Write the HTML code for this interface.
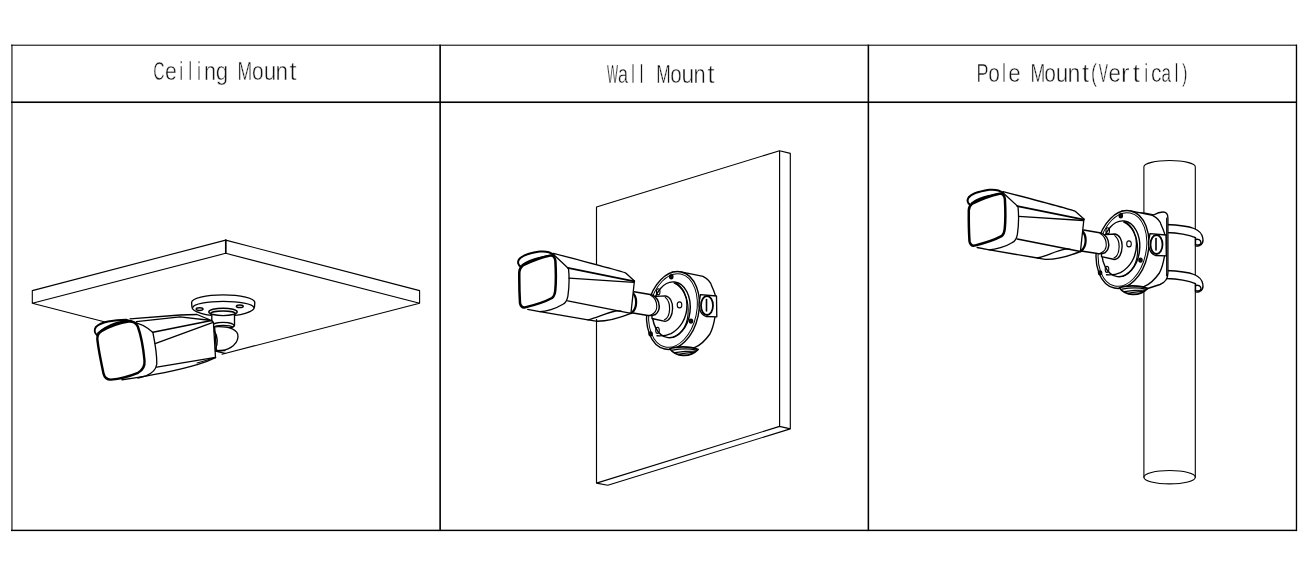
<!DOCTYPE html>
<html><head><meta charset="utf-8"><style>
html,body{margin:0;padding:0;background:#fff;}
body{width:1304px;height:582px;position:relative;overflow:hidden;}
svg{position:absolute;left:0;top:0;will-change:transform;}
</style></head><body>
<svg width="1304" height="582" viewBox="0 0 1304 582">
<g id="grid" fill="#000">
<rect x="11" y="44.67" width="1286" height="1.05"/>
<rect x="11" y="101.43" width="1286" height="1.6"/>
<rect x="11" y="529.67" width="1286" height="1.44"/>
<rect x="11.43" y="44.67" width="1.06" height="486.4"/>
<rect x="439.33" y="44.67" width="1.6" height="486.4"/>
<rect x="867.59" y="44.67" width="1.55" height="486.4"/>
<rect x="1295.8" y="44.67" width="1.35" height="486.4"/>

</g>
<g font-family="Liberation Sans, sans-serif" font-size="25.4" fill="#111" stroke="#fff" stroke-width="0.5">
<text transform="translate(153.21,79.6) scale(0.615,1)">C</text>
<text transform="translate(165.09,79.6) scale(0.839,1)">e</text>
<text transform="translate(179.55,79.6) scale(0.620,1)">i</text>
<text transform="translate(188.55,79.6) scale(0.620,1)">l</text>
<text transform="translate(197.15,79.6) scale(0.620,1)">i</text>
<text transform="translate(203.96,79.6) scale(0.853,1)">n</text>
<text transform="translate(215.76,79.6) scale(0.884,1)">g</text>
<text transform="translate(237.55,79.6) scale(0.694,1)">M</text>
<text transform="translate(252.12,79.6) scale(0.825,1)">o</text>
<text transform="translate(263.63,79.6) scale(0.890,1)">u</text>
<text transform="translate(275.40,79.6) scale(0.890,1)">n</text>
<text transform="translate(289.62,79.6) scale(1.000,1)">t</text>
<text transform="translate(606.95,82.8) scale(0.463,1)">W</text>
<text transform="translate(618.03,82.8) scale(0.713,1)">a</text>
<text transform="translate(631.25,82.8) scale(0.620,1)">l</text>
<text transform="translate(639.75,82.8) scale(0.620,1)">l</text>
<text transform="translate(656.28,82.8) scale(0.683,1)">M</text>
<text transform="translate(670.23,82.8) scale(0.817,1)">o</text>
<text transform="translate(681.52,82.8) scale(0.899,1)">u</text>
<text transform="translate(693.55,82.8) scale(0.862,1)">n</text>
<text transform="translate(707.62,82.8) scale(1.000,1)">t</text>
<text transform="translate(976.62,81.9) scale(0.710,1)">P</text>
<text transform="translate(988.22,81.9) scale(0.825,1)">o</text>
<text transform="translate(1002.35,81.9) scale(0.620,1)">l</text>
<text transform="translate(1008.25,81.9) scale(0.881,1)">e</text>
<text transform="translate(1030.54,81.9) scale(0.700,1)">M</text>
<text transform="translate(1044.32,81.9) scale(0.825,1)">o</text>
<text transform="translate(1055.83,81.9) scale(0.890,1)">u</text>
<text transform="translate(1067.55,81.9) scale(0.918,1)">n</text>
<text transform="translate(1081.97,81.9) scale(1.000,1)">t</text>
<text transform="translate(1091.08,81.9) scale(0.713,1)">(</text>
<text transform="translate(1098.84,81.9) scale(0.544,1)">V</text>
<text transform="translate(1108.45,81.9) scale(0.881,1)">e</text>
<text transform="translate(1121.04,81.9) scale(1.000,1)">r</text>
<text transform="translate(1132.87,81.9) scale(1.000,1)">t</text>
<text transform="translate(1144.45,81.9) scale(0.620,1)">i</text>
<text transform="translate(1150.90,81.9) scale(0.831,1)">c</text>
<text transform="translate(1161.57,81.9) scale(0.674,1)">a</text>
<text transform="translate(1174.75,81.9) scale(0.620,1)">l</text>
<text transform="translate(1182.10,81.9) scale(0.639,1)">)</text>
</g>
<g fill="none" stroke="#000" stroke-linejoin="round" stroke-linecap="round">
<!-- slab -->
<g stroke-width="1.1">
<path d="M32.3,290.6 L225.7,240.1 L419.6,290.6 M32.3,303.3 L225.7,253.3 L419.6,303.3 M32.3,290.6 V303.3 M419.6,290.6 V303.3 M32.3,303.3 L110,323.3 M419.6,303.3 L222,354.2"/>
<path d="M225.8,240.2 V253.2" stroke-width="1.7"/>
</g>
<!-- mount plate -->
<g stroke-width="1.35" fill="#fff">
<path d="M191.6,302.5 A31.6,7.7 0 0 1 254.8,302.5 L254.5,306.8 A31.3,9.3 0 0 1 191.9,306.8 Z"/>
<path d="M192.8,307.2 A30.5,6.2 0 0 1 253.7,307.2" fill="none"/>
<ellipse cx="199.6" cy="309.1" rx="3.4" ry="1.3" stroke-width="1.5"/>
<ellipse cx="239.8" cy="306.3" rx="3.4" ry="1.3" stroke-width="1.5"/>
<!-- neck -->
<path d="M211.8,314 V325.6 A11.3,2.6 0 0 0 234.5,325.6 V314 Z"/>
<ellipse cx="223" cy="311.9" rx="14.2" ry="3.7" stroke-width="1.4"/>
<path d="M210.6,313.6 A12.4,2.6 0 0 1 235.4,313.6" fill="none" stroke-width="1.7"/>
<path d="M212.3,325.6 A10.8,3.2 0 0 1 233.9,325.6" fill="none" stroke-width="1.3"/>
<path d="M213.5,327.2 A9.8,2.2 0 0 1 232.8,327.2" fill="none" stroke-width="1.1"/>
<!-- ball -->
<path d="M214.6,326.8 C230,326 238.6,330 238,337 C237.2,345.5 227,351.5 216.4,350.6 Z"/>
</g>
<!-- camera 1 body -->
<g stroke-width="1.35" fill="#fff">
<path d="M118.5,320 L130,319.3 L180,315 L194.1,314.7 L211.5,320.5 L213.5,322 L215.5,357.6 L146,375.4 L128,378 L110,380 Z" stroke="none"/>
<path d="M130,318.8 L180,315 L197,314.5 L211.5,320.5 M136.4,321.7 L180,316.9 L211.5,320.5" fill="none"/>
<path d="M211.5,320.5 L213.4,322.3 L215.5,357.5" fill="none" stroke-width="1.3"/>
<path d="M214.2,331 C217.8,336 218.2,344 215.3,349" fill="none" stroke-width="1.4"/>
<path d="M152.9,332.3 L211.5,320.5" fill="none" stroke-width="1.5"/>
<path d="M155.1,343.6 L212.4,322.6" fill="none"/>
<path d="M156.8,367.2 L215.5,357.3" fill="none"/>
<path d="M122,379.8 C150,375.8 180,369.8 198,364.4 C206,362 211,359.8 215.5,357.6" fill="none" stroke-width="1.4"/>
<path d="M197,363 C204,361.4 210,359.3 215.5,357.4" fill="none" stroke-width="1.1"/>
<path d="M215.5,350.4 L225,350.6 M215.5,351.2 L225,353.4" fill="none"/>
<!-- bezel -->
<path d="M130,321.4 C137,322.5 146,326 152.9,332.5 C155,343 157,356 156.8,364.2 C156,369.5 152,373.5 146,375.8 L138,378" fill="none" stroke-width="1.3"/>
</g>
<!-- visor + front face -->
<g fill="#fff">
<path d="M97.4,335.4 C94.6,333.4 94,330 95.7,327.2 C98.5,324.5 103,322.6 108,321.6 C114,320.6 120,320 126.1,319.8 L133.8,322.4" stroke-width="2.0"/>
<path d="M98,333.2 C103,328.6 110,325 117,322.6 C121,321.5 126,320.9 131,320.9" fill="none" stroke-width="1.8"/>
<path d="M101.4,331.1 C110,326.4 120,322.8 128.5,321.6 C133,321.3 136,322.6 137.8,326.5 C140.5,334 143.5,350 144.5,360.5 C145,366 142,370.5 138,372.8 C130,376 118,379 111,379.6 C107,379.8 104.6,377.6 103.6,373.9 C101,362 98.5,350 97.3,339.2 C97.2,335.8 98.5,332.8 101.4,331.1 Z" stroke-width="2.4"/>
</g>

<!-- wall -->
<g stroke-width="1.15">
<path d="M596.5,207 L779.6,150.7 L790.3,153.4 V428.9 L607.8,485.2 L596.5,483.1 Z M779.6,150.7 V426.4 L790.3,428.9 M596.5,483.1 L779.6,426.4"/>
</g>
<g id="box2" stroke-width="1.35">
<g fill="#fff">
<path d="M672,272.2 C678,271.5 683,272 686,272.9 L703,276.3 C708,279 711,283 711.6,285.8 C714.5,292 716,296 715.9,299.6 L715,316.8 C714,323 712,330 709.9,334 C705,341 700,345.5 694.4,347.7 L676,348.5 Z"/>
<ellipse cx="673" cy="310.5" rx="25.7" ry="39.4" transform="rotate(12 673 310.5)" stroke-width="1.4"/>
<ellipse cx="673" cy="310.5" rx="23.6" ry="37.3" transform="rotate(12 673 310.5)" fill="none" stroke-width="1"/>
</g>
<ellipse cx="671.3" cy="309.8" rx="18.8" ry="28" transform="rotate(7 671.3 309.8)" fill="none" stroke-width="1.4"/>
<path d="M674,283 C683,287 688.2,298 688.2,310 C688.2,323 683,333 673,337.5" fill="none" stroke-width="1.1"/>
<path d="M675.5,282.8 C683,287 687,296 687,305 C687,318 680.5,328.5 671,333.6 C667,335.5 662,336.2 657,335.8" fill="none" stroke-width="1.4"/>
<!-- lug -->
<path d="M700.5,294.6 L716.5,296 L716.8,316.8 L706,316.5 C700,314 698,307 699.5,300 Z" fill="#fff"/>
<ellipse cx="707" cy="305.5" rx="6" ry="9.5" fill="#fff" stroke-width="1.8"/>
<path d="M706.5,299.5 V311" stroke-width="1.6"/>
<!-- bottom lug -->
<path d="M669.8,348.8 C676,346.3 690,346 698.2,349.4 C694,353.8 688,355.6 683,355.4 C677,355.2 672.5,352.5 669.8,348.8 Z" fill="#fff" stroke-width="1.6"/>
<path d="M672.5,350.2 C680,348.6 690,348.6 696.5,350.2 M675,352.6 C682,351.6 690,351.2 695,351.2 M678,354.3 C684,353.4 689,352.8 693,352.4" stroke-width="1.3"/>
<!-- holes & dots -->
<ellipse cx="658.2" cy="291.8" rx="1.8" ry="3.1" stroke-width="1.1"/>
<ellipse cx="679.5" cy="304.9" rx="2.3" ry="3" stroke-width="1.1"/>
<ellipse cx="657.5" cy="330.4" rx="1.8" ry="3" stroke-width="1.1"/>
<ellipse cx="671.3" cy="276.7" rx="1.6" ry="2" fill="#111"/>
<ellipse cx="691" cy="321.1" rx="1.6" ry="2" fill="#111"/>
<ellipse cx="650.6" cy="333.8" rx="1.6" ry="2" fill="#111"/>
</g>
<g id="cam2">
<!-- arm -->
<g fill="#fff" stroke-width="1.35">
<path d="M652,296.6 L665.5,295.8 C670,296.5 672.8,302 672.6,308.5 C672.4,315.5 669.5,321 665,321.3 L652,318.5 Z"/>
<path d="M665.3,297.4 C668.5,300 669.8,304.5 669.6,309 C669.4,314.5 667.5,318.5 664.5,319.8" fill="none" stroke-width="1.2"/>
<path d="M631,292 L651.6,294.7 C656,296.5 659,301 659.3,306.6 C659.2,310 657.5,313 655.5,314.5 L650,315.5 L631,313 Z" stroke="none"/>
<path d="M634.1,291.8 L651.6,294.7 C656,296.5 659,301 659.3,306.6 C659.2,310 657.5,313 655.5,314.5 C653,315.5 651,315.6 648,315.4 L630,312.5" fill="none" stroke-width="1.5"/>
<path d="M650.5,295 C654.5,297.5 656.8,302 656.8,306.5 C656.8,310.5 654.5,313.5 651,315" fill="none" stroke-width="1.1"/>
<path d="M631.8,292.3 C637.5,296 637.8,308 631.5,313" fill="none" stroke-width="2.2"/>
</g>
<!-- body -->
<g fill="#fff" stroke-width="1.35">
<path d="M553.5,253.4 L565,256.2 L622.7,271.3 L634.4,280.9 L631,312.8 L617.2,310.5 L604,316.8 L592.5,320.3 L540,312 L527.6,309.3 Z" stroke="none"/>
<path d="M553.5,253.4 C624,271.8 625,272.3 626,273.2 L634.4,280.9" fill="none"/>
<path d="M567.7,267.9 L634.4,281.4" fill="none" stroke-width="1.6"/>
<path d="M569.1,278.2 L633.7,282.3" fill="none"/>
<path d="M634.4,281 L631,312.7" fill="none" stroke-width="1.3"/>
<path d="M567.7,300.8 L631,313.3" fill="none"/>
<path d="M540,311.7 L588,319.8 C591,320.5 593,321 596,321.2 C606,321.4 618,318.5 631,313.3" fill="none"/>
<path d="M588,319.8 C596,318 606,313 615.5,311 C617.5,310.6 619,310.8 621,311.2" fill="none"/>
<!-- bezel -->
<path d="M553.5,254.6 L568.5,268.4 C569.5,278 568.8,290 567.9,296.1 C567,301 565,303.5 562.5,304.5 C556,308.5 546,311.5 539.7,311.7 L527.6,309.3" fill="none" stroke-width="1.3"/>
</g>
<!-- visor + face -->
<g fill="#fff">
<path d="M520.4,266.4 C518,265 517.5,262 518.8,259.8 C521,256 529,253.3 539.7,251.6 C546,251 550,251.8 553.5,254.6" stroke-width="2.0"/>
<path d="M522.2,264.8 C526,262 532,259.4 540,257.4 C545,256 549,255.3 552.9,255.2" fill="none" stroke-width="1.5"/>
<path d="M522.8,265.4 C532,261 542,257.3 550,255.6 C553,255 555,257 555.4,261 C556,272 556,283 555.3,290 C555,294 554,296.5 552,298 C545,301.8 533,305.5 525,307.4 C522.5,307.8 520.6,306 520,303 C519.3,292 519.2,282 519.3,272 C519.5,269 520.8,267 522.8,265.4 Z" stroke-width="2.5"/>
</g>
</g>

<!-- pole -->
<g stroke-width="1.1">
<path d="M1143.9,166.8 A25.7,6.3 0 0 1 1195.3,166.8 M1143.9,166.8 V477.2 M1195.3,166.8 V477.2"/>
<ellipse cx="1169.6" cy="477.2" rx="25.7" ry="6.7"/>
</g>
<!-- straps -->
<g stroke-width="1.35" fill="#fff">
<path d="M1166,224.5 C1178,225 1188,226 1194,228.5 C1199,230.5 1202,233.5 1202.8,238 C1203.5,241.5 1202,244.5 1199.4,245.6 C1197.5,246.4 1195.7,246.2 1195.5,245.5 L1195.5,237.6 C1190,235.3 1180,233 1166,232.5 Z"/>
<path d="M1195.6,239.5 C1198,238.6 1200.8,240 1201,242.5 C1201,244.5 1198.5,245.5 1195.6,244.6" fill="none" stroke-width="1.4"/>
<path d="M1166,270.5 C1178,271 1188,272 1194,274.5 C1199,276.5 1202,279.5 1202.8,284 C1203.5,287.5 1202,290.5 1199.4,291.6 C1197.5,292.4 1195.7,292.2 1195.5,291.5 L1195.5,283.6 C1190,281.3 1180,279 1166,278.5 Z"/>
<path d="M1195.6,285.5 C1198,284.6 1200.8,286 1201,288.5 C1201,290.5 1198.5,291.5 1195.6,290.6" fill="none" stroke-width="1.4"/>
</g>
<!-- plate -->
<g stroke-width="1.35" fill="#fff">
<path d="M1130,213 C1140,212 1148,213.5 1153.5,215 C1157,213 1160,212 1163,212 C1166,212 1167.9,214 1167.9,218 V273 C1167.9,279 1165,282.5 1160,284.5 L1140,291 L1125,291 Z"/>
<path d="M1166.6,218 V276" fill="none" stroke-width="1"/>
</g>
<use href="#box2" transform="translate(449.5,-61)"/>
<use href="#cam2" transform="translate(449.5,-61.8)"/>

</g>
</svg>
</body></html>
